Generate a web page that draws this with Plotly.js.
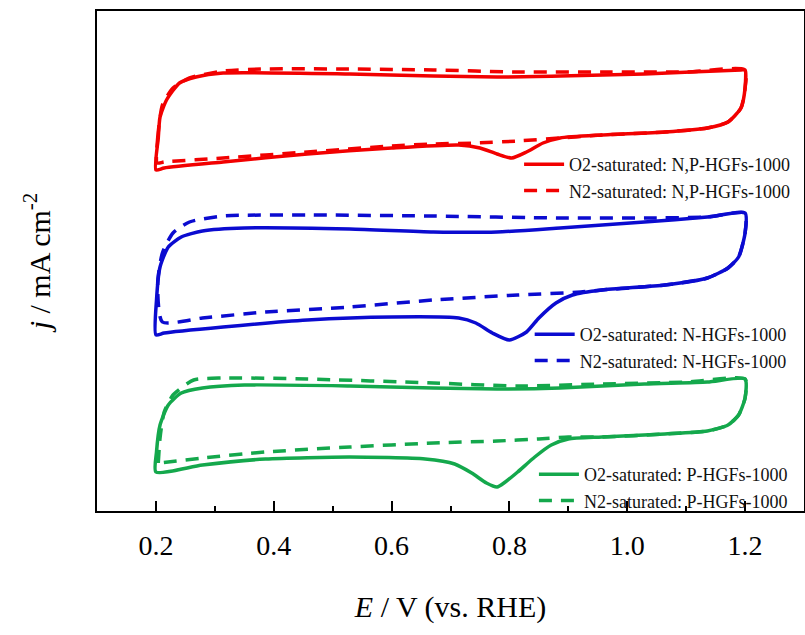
<!DOCTYPE html>
<html>
<head>
<meta charset="utf-8">
<script src="https://cdn.plot.ly/plotly-3.0.1.min.js"></script>
<style>html,body{margin:0;padding:0;background:#fff;}#chart{width:805px;height:635px;}</style>
</head>
<body>
<div id="chart"></div>
<script>
// Potential E (V vs. RHE) and current density j (arbitrary units)
const npO2_E = [0.200,0.204,0.207,0.218,0.240,0.268,0.314,0.529,0.671,0.779,0.886,1.029,1.193,1.200,1.200,1.193,1.171,1.136,1.064,0.957,0.886,0.857,0.829,0.804,0.779,0.750,0.714,0.600,0.457,0.314,0.214,0.200];
const npO2_j = [341,373,394,411,428,434,438,437,435,434,435,437,441,441,423,403,389,383,379,376,373,368,359,353,357,363,366,363,357,349,343,341];
const npN2_E = [0.202,0.203,0.211,0.229,0.257,0.314,0.386,0.529,0.671,0.814,0.957,1.100,1.200,1.200,1.193,1.171,1.136,1.064,0.957,0.886,0.814,0.743,0.671,0.600,0.457,0.314,0.214,0.202];
const npN2_j = [348,373,406,423,433,440,442,442,441,439,439,439,441,423,403,389,383,379,376,373,370,368,367,365,359,353,349,348];

const nO2_E = [0.200,0.201,0.207,0.221,0.243,0.279,0.350,0.529,0.671,0.779,0.886,1.029,1.136,1.200,1.200,1.189,1.171,1.136,1.064,0.957,0.907,0.879,0.850,0.829,0.800,0.771,0.743,0.714,0.600,0.457,0.314,0.214,0.200];
const nO2_j = [176,211,244,264,274,280,283,282,279,279,283,289,294,298,278,254,243,233,226,221,216,208,193,179,171,178,188,193,194,191,184,178,176];
const nN2_E = [0.211,0.203,0.211,0.229,0.257,0.314,0.457,0.671,0.886,1.029,1.136,1.200,1.200,1.189,1.171,1.136,1.064,0.957,0.921,0.814,0.671,0.529,0.386,0.279,0.211];
const nN2_j = [189,228,258,278,289,295,296,295,293,293,294,298,278,254,243,233,226,221,219,216,211,204,199,193,189];

const pO2_E = [0.200,0.201,0.207,0.221,0.243,0.279,0.350,0.529,0.671,0.779,0.886,1.029,1.136,1.200,1.200,1.189,1.171,1.136,1.064,0.957,0.900,0.871,0.843,0.814,0.793,0.779,0.761,0.736,0.707,0.657,0.529,0.386,0.279,0.200];
const pO2_j = [39,59,86,106,118,123,126,125,123,122,123,127,129,132,113,96,86,80,77,74,72,66,54,39,29,24,28,38,47,52,54,52,46,39];
const pN2_E = [0.204,0.207,0.214,0.229,0.264,0.314,0.457,0.671,0.814,0.957,1.100,1.200,1.200,1.189,1.171,1.136,1.064,0.957,0.900,0.850,0.779,0.671,0.529,0.386,0.279,0.207];
const pN2_j = [48,73,99,116,131,133,132,128,125,127,129,132,113,96,86,80,77,74,74,72,70,68,64,59,53,48];

const names = {
  npO2: 'O2-saturated: N,P-HGFs-1000', npN2: 'N2-saturated: N,P-HGFs-1000',
  nO2: 'O2-saturated: N-HGFs-1000', nN2: 'N2-saturated: N-HGFs-1000',
  pO2: 'O2-saturated: P-HGFs-1000', pN2: 'N2-saturated: P-HGFs-1000'
};
const xTicks = [0.2, 0.4, 0.6, 0.8, 1.0, 1.2];
const xTickText = ['0.2', '0.4', '0.6', '0.8', '1.0', '1.2'];

const RED = '#f20000', BLUE = '#0b0bd0', GREEN = '#14a84c';
const DASH = '13px,9px';

function tr(x, y, name, color, dashed, legend) {
  return {
    x: x, y: y, name: name, type: 'scatter', mode: 'lines', legend: legend,
    line: {color: color, width: 3.5, dash: dashed ? DASH : 'solid', shape: 'spline', smoothing: 0.6},
    hoverinfo: 'skip'
  };
}

const data = [
  tr(npN2_E, npN2_j, names.npN2, RED, true, 'legend'),
  tr(npO2_E, npO2_j, names.npO2, RED, false, 'legend'),
  tr(nN2_E, nN2_j, names.nN2, BLUE, true, 'legend2'),
  tr(nO2_E, nO2_j, names.nO2, BLUE, false, 'legend2'),
  tr(pN2_E, pN2_j, names.pN2, GREEN, true, 'legend3'),
  tr(pO2_E, pO2_j, names.pO2, GREEN, false, 'legend3')
];

const FONT = 'Liberation Serif';
const legBase = {
  bgcolor: 'rgba(0,0,0,0)', borderwidth: 0, traceorder: 'reversed',
  font: {family: FONT, size: 18, color: '#111'}, itemwidth: 40,
  xanchor: 'left', yanchor: 'top', tracegroupgap: 0
};

const layout = {
  width: 805, height: 635,
  margin: {l: 97, r: 1, t: 11, b: 124},
  paper_bgcolor: '#fff', plot_bgcolor: '#fff',
  font: {family: FONT, color: '#000'},
  showlegend: true,
  legend: Object.assign({}, legBase, {x: 0.597, y: 0.73}),
  legend2: Object.assign({}, legBase, {x: 0.612, y: 0.39}),
  legend3: Object.assign({}, legBase, {x: 0.618, y: 0.11}),
  xaxis: {
    range: [0.1, 1.3], showgrid: false, zeroline: false,
    showline: true, linecolor: '#000', linewidth: 2, mirror: true,
    tickvals: xTicks, ticktext: xTickText,
    ticks: 'inside', ticklen: 10, tickwidth: 2, tickcolor: '#000',
    ticklabelstandoff: 8,
    minor: {dtick: 0.1, tick0: 0.1, ticks: 'inside', ticklen: 5, tickwidth: 2, tickcolor: '#000', showgrid: false},
    tickfont: {family: FONT, size: 28, color: '#000'},
    title: {text: '<i>E</i> / V (vs. RHE)', font: {family: FONT, size: 30, color: '#000'}, standoff: 36}
  },
  yaxis: {
    range: [0, 500], showgrid: false, zeroline: false,
    showline: true, linecolor: '#000', linewidth: 2, mirror: true,
    showticklabels: false, ticks: '',
    title: {text: '<i>j</i> / mA cm<sup>-2</sup>', font: {family: FONT, size: 30, color: '#000'}, standoff: 36}
  }
};

Plotly.newPlot('chart', data, layout, {displayModeBar: false, staticPlot: true});
</script>
</body>
</html>
